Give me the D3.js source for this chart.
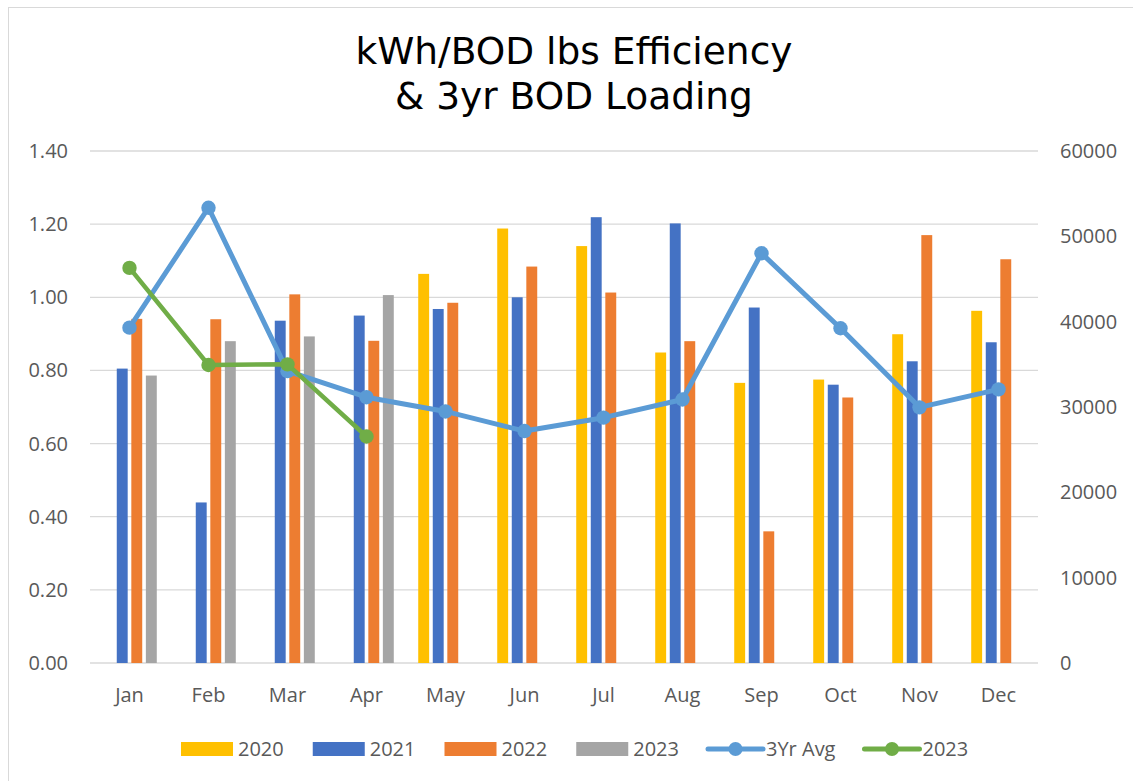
<!DOCTYPE html>
<html>
<head>
<meta charset="utf-8">
<script src="https://cdn.jsdelivr.net/npm/d3@7"></script>
<style>
  html, body { margin: 0; padding: 0; background: #fff; }
  svg { display: block; }
  .lbl { font-family: "Open Sans", sans-serif; font-size: 20px; fill: #595959; }
  .title { font-family: "DejaVu Sans", Verdana, sans-serif; font-size: 37.5px; fill: #000; }
</style>
</head>
<body>
<script>
// data
const months = ["Jan","Feb","Mar","Apr","May","Jun","Jul","Aug","Sep","Oct","Nov","Dec"];
const barYears = ["2020","2021","2022","2023"];
const eff2020 = [null, null, null, null, 1.064, 1.188, 1.140, 0.849, 0.766, 0.775, 0.899, 0.963];
const eff2021 = [0.805, 0.439, 0.936, 0.950, 0.968, 1.000, 1.219, 1.202, 0.972, 0.761, 0.825, 0.877];
const eff2022 = [0.941, 0.940, 1.008, 0.881, 0.985, 1.084, 1.013, 0.880, 0.360, 0.726, 1.170, 1.104];
const eff2023 = [0.786, 0.880, 0.893, 1.006, null, null, null, null, null, null, null, null];
const avg3yr = [39300, 53350, 34200, 31150, 29480, 27180, 28750, 30880, 48020, 39230, 29960, 32060];
const bod2023 = [46300, 34920, 35000, 26540, null, null, null, null, null, null, null, null];
const leftTicks = [0, 0.2, 0.4, 0.6, 0.8, 1.0, 1.2, 1.4];
const rightTicks = [0, 10000, 20000, 30000, 40000, 50000, 60000];

const barColors = {"2020": "#FFC000", "2021": "#4472C4", "2022": "#ED7D31", "2023": "#A5A5A5"};
const barData = {"2020": eff2020, "2021": eff2021, "2022": eff2022, "2023": eff2023};

const W = 1133, H = 781;
const plot = {left: 90, right: 1038, top: 151, bottom: 663};

const svg = d3.select("body").append("svg").attr("width", W).attr("height", H);

// chart frame
svg.append("rect").attr("x", 8.5).attr("y", 7.5).attr("width", 1200).attr("height", 900)
  .attr("fill", "none").attr("stroke", "#d9d9d9");

const x = d3.scaleBand().domain(months).range([plot.left, plot.right]);
const xInner = d3.scaleBand().domain(barYears).range([0, x.bandwidth()])
  .paddingInner(0.25).paddingOuter(0.84);
const yL = d3.scaleLinear().domain([0, 1.4]).range([plot.bottom, plot.top]);
const yR = d3.scaleLinear().domain([0, 60000]).range([plot.bottom, plot.top]);

// gridlines
svg.append("g").selectAll("line").data(leftTicks).join("line")
  .attr("x1", plot.left).attr("x2", plot.right)
  .attr("y1", d => yL(d)).attr("y2", d => yL(d))
  .attr("stroke", "#d9d9d9").attr("stroke-width", 1.3);

// left axis labels
svg.append("g").selectAll("text").data(leftTicks).join("text")
  .attr("class", "lbl").attr("x", 68).attr("y", d => yL(d))
  .attr("dy", "0.35em").attr("text-anchor", "end")
  .text(d => d3.format(".2f")(d));

// right axis labels
svg.append("g").selectAll("text").data(rightTicks).join("text")
  .attr("class", "lbl").attr("x", 1060).attr("y", d => yR(d))
  .attr("dy", "0.35em").attr("text-anchor", "start")
  .text(d => d);

// month labels
svg.append("g").selectAll("text").data(months).join("text")
  .attr("class", "lbl").attr("x", d => x(d) + x.bandwidth() / 2).attr("y", 695)
  .attr("dy", "0.35em").attr("text-anchor", "middle")
  .text(d => d);

// bars
const bars = [];
barYears.forEach(yr => {
  barData[yr].forEach((v, i) => {
    if (v != null) bars.push({year: yr, month: months[i], value: v});
  });
});
svg.append("g").selectAll("rect").data(bars).join("rect")
  .attr("x", d => x(d.month) + xInner(d.year))
  .attr("width", xInner.bandwidth())
  .attr("y", d => yL(d.value))
  .attr("height", d => yL(0) - yL(d.value))
  .attr("fill", d => barColors[d.year]);

// lines (right axis)
function drawLine(values, color, lw) {
  const pts = values.map((v, i) => ({month: months[i], value: v})).filter(d => d.value != null);
  const line = d3.line().x(d => x(d.month) + x.bandwidth() / 2).y(d => yR(d.value));
  const g = svg.append("g");
  g.append("path").datum(pts).attr("d", line).attr("fill", "none")
    .attr("stroke", color).attr("stroke-width", lw)
    .attr("stroke-linejoin", "round").attr("stroke-linecap", "round");
  g.selectAll("circle").data(pts).join("circle")
    .attr("cx", d => x(d.month) + x.bandwidth() / 2).attr("cy", d => yR(d.value))
    .attr("r", 7.2).attr("fill", color);
}
drawLine(avg3yr, "#5B9BD5", 5);
drawLine(bod2023, "#70AD47", 4.5);

// title
const title = svg.append("text").attr("class", "title").attr("text-anchor", "middle");
title.append("tspan").attr("x", 574).attr("y", 64).text("kWh/BOD lbs Efficiency");
title.append("tspan").attr("x", 574).attr("y", 109).text("& 3yr BOD Loading");

// legend
const legendItems = [
  {label: "2020", type: "bar", color: barColors["2020"]},
  {label: "2021", type: "bar", color: barColors["2021"]},
  {label: "2022", type: "bar", color: barColors["2022"]},
  {label: "2023", type: "bar", color: barColors["2023"]},
  {label: "3Yr Avg", type: "line", color: "#5B9BD5"},
  {label: "2023", type: "line", color: "#70AD47"}
];
const legY = 749;
let lx = 181;
const leg = svg.append("g");
legendItems.forEach(it => {
  const g = leg.append("g");
  let tx;
  if (it.type === "bar") {
    g.append("rect").attr("x", lx).attr("y", legY - 7).attr("width", 52).attr("height", 14).attr("fill", it.color);
    tx = lx + 57;
  } else {
    g.append("line").attr("x1", lx).attr("x2", lx + 55).attr("y1", legY).attr("y2", legY)
      .attr("stroke", it.color).attr("stroke-width", 5).attr("stroke-linecap", "round");
    g.append("circle").attr("cx", lx + 27.5).attr("cy", legY).attr("r", 7).attr("fill", it.color);
    tx = lx + 58;
  }
  const t = g.append("text").attr("class", "lbl").attr("x", tx).attr("y", legY)
    .attr("dy", "0.35em").text(it.label);
  lx = tx + t.node().getComputedTextLength() + 29;
});
</script>
</body>
</html>
